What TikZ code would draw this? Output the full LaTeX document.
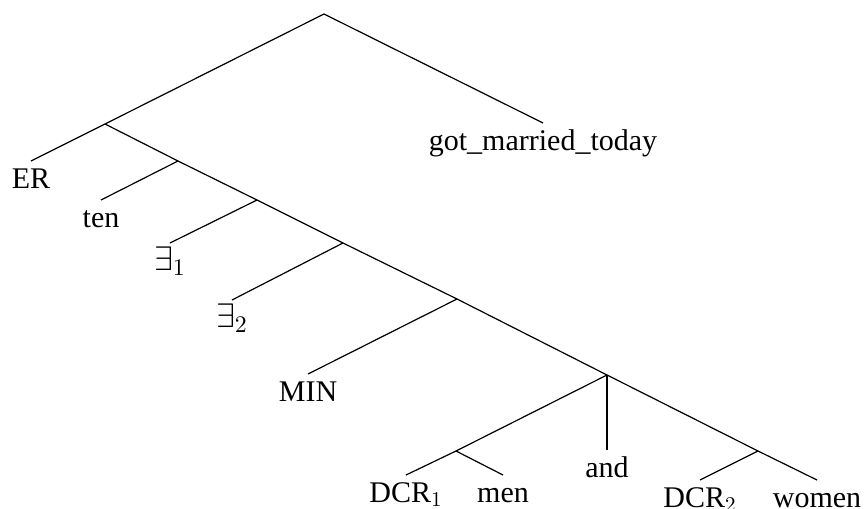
\documentclass[tikz,border=0pt]{standalone}
\usepackage{fix-cm}
\usepackage[no-math]{fontspec}
\setmainfont{Liberation Serif}
\begin{document}
\begin{tikzpicture}[x=0.5pt,y=-0.5pt,
  leaf/.style={anchor=north, inner xsep=0pt, inner ysep=0pt, text height=13.5pt, text depth=0pt, font=\fontsize{15}{18}\selectfont},
  mleaf/.style={leaf, font=\fontsize{17}{20}\selectfont},
  branch/.style={line width=0.6pt}]
\useasboundingbox (0,0) rectangle (865,508);
% internal points
\coordinate (R) at (324,14);
\coordinate (n1) at (105,124);
\coordinate (n2) at (178,161);
\coordinate (n3) at (257,200);
\coordinate (n4) at (343,243);
\coordinate (n5) at (457,299);
\coordinate (n6) at (607,375);
\coordinate (n7) at (456,451);
\coordinate (n8) at (758,451);
% leaves
\node[leaf] (got) at (543,123) {got\_married\_today};
\node[leaf] (ER) at (31,161) {ER};
\node[leaf] (ten) at (101,200) {ten};
\node[mleaf] (e1) at (170,243) {$\exists_1$};
\node[mleaf] (e2) at (232,300) {$\exists_2$};
\node[leaf] (min) at (308,374) {MIN};
\node[leaf] (dcr1) at (406,475) {DCR$_1$};
\node[leaf] (men) at (503,475) {men};
\node[leaf] (and) at (607,450) {and};
\node[leaf] (dcr2) at (700,480) {DCR$_2$};
\node[leaf] (women) at (817,480) {women};
% edges
\draw[branch] (R) -- (n1);
\draw[branch] (R) -- (got.north);
\draw[branch] (n1) -- (ER.north);
\draw[branch] (n1) -- (n2);
\draw[branch] (n2) -- (ten.north);
\draw[branch] (n2) -- (n3);
\draw[branch] (n3) -- (e1.north);
\draw[branch] (n3) -- (n4);
\draw[branch] (n4) -- (e2.north);
\draw[branch] (n4) -- (n5);
\draw[branch] (n5) -- (min.north);
\draw[branch] (n5) -- (n6);
\draw[branch] (n6) -- (n7);
\draw[branch] (n6) -- (and.north);
\draw[branch] (n6) -- (n8);
\draw[branch] (n7) -- (dcr1.north);
\draw[branch] (n7) -- (men.north);
\draw[branch] (n8) -- (dcr2.north);
\draw[branch] (n8) -- (women.north);
\end{tikzpicture}
\end{document}
